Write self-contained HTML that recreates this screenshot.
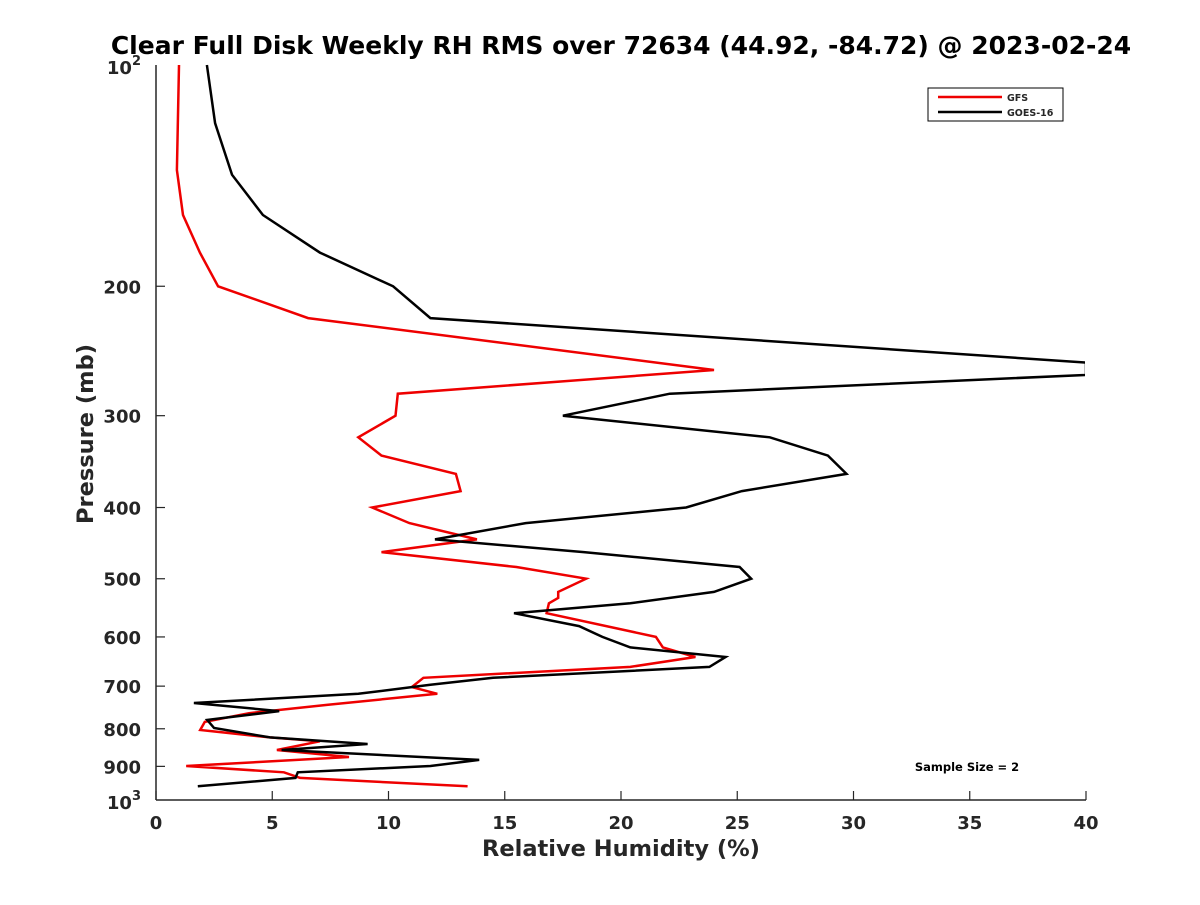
<!DOCTYPE html>
<html><head><meta charset="utf-8"><style>
body{margin:0;background:#fff;width:1200px;height:900px;overflow:hidden}
svg text{font-family:"DejaVu Sans","Liberation Sans",sans-serif;font-weight:bold;fill:#262626}
</style></head><body>
<svg id="chart" width="1200" height="900">
<defs><clipPath id="plotclip"><rect x="150" y="60" width="935" height="745"/></clipPath></defs>
<rect width="1200" height="900" fill="#fff"/>
<text x="621" y="54" text-anchor="middle" font-size="25" style="fill:#000">Clear Full Disk Weekly RH RMS over 72634 (44.92, -84.72) @ 2023-02-24</text>
<g id="axes"></g>
<g id="series" clip-path="url(#plotclip)"></g>
<g>
<rect x="928" y="88" width="135" height="33" fill="#fff" stroke="#000" stroke-width="1"/>
<line x1="938" y1="97" x2="1002" y2="97" stroke="#e00" stroke-width="2.5"/>
<text x="1007" y="101" font-size="9.5">GFS</text>
<line x1="938" y1="112" x2="1002" y2="112" stroke="#000" stroke-width="2.5"/>
<text x="1007" y="116" font-size="9.5">GOES-16</text>
</g>
<text x="967" y="771" text-anchor="middle" font-size="11.5" style="fill:#000">Sample Size = 2</text>
<text x="621" y="856" text-anchor="middle" font-size="22.5">Relative Humidity (%)</text>
<text transform="translate(93,434) rotate(-90)" text-anchor="middle" font-size="22.5">Pressure (mb)</text>
</svg>
<script>
const xTicks=[0,5,10,15,20,25,30,35,40];
const yTicks=[200,300,400,500,600,700,800,900];
const goesP=[100,120,141,160,180,200,221,254,264,280,300,321,340,360,380,400,420,442,460,482,500,521,540,557,580,600,620,639,659,682,697,717,738,757,778,798,822,839,855,882,899,917,933,958];
const goesRH=[2.19,2.54,3.27,4.6,7.05,10.2,11.8,40,40,22.1,17.5,26.4,28.9,29.7,25.2,22.8,15.9,12.0,18.4,25.1,25.6,24.0,20.4,15.4,18.2,19.2,20.4,24.5,23.8,14.5,11.8,8.7,1.63,5.3,2.2,2.5,4.9,9.1,5.4,13.9,11.8,6.1,6.0,1.8];
const gfsP=[100,139,160,180,200,221,260,280,300,321,340,360,380,400,420,442,460,482,500,521,531,540,557,600,620,639,659,682,702,717,742,762,783,803,822,832,855,874,899,917,933,958];
const gfsRH=[0.99,0.9,1.16,1.89,2.67,6.54,24.0,10.4,10.3,8.7,9.7,12.9,13.1,9.3,10.9,13.8,9.7,15.5,18.5,17.3,17.3,16.9,16.8,21.5,21.8,23.2,20.4,11.5,11.0,12.1,7.4,4.0,2.1,1.9,4.9,7.05,5.2,8.3,1.3,5.5,6.2,13.4];
const X0=156,X1=1086,Y0=65,Y1=800;
const xs=v=>X0+(v/40)*(X1-X0);
const ys=p=>Y0+Math.log10(p/100)*(Y1-Y0);
const NS="http://www.w3.org/2000/svg";
const ax=document.getElementById('axes'),sr=document.getElementById('series');
function mk(tag,attrs,parent){const e=document.createElementNS(NS,tag);for(const k in attrs)e.setAttribute(k,attrs[k]);parent.appendChild(e);return e;}
let l=mk('line',{x1:X0,y1:Y0,x2:X0,y2:Y1,stroke:'#262626','stroke-width':1.5},ax);


l=mk('line',{x1:X0,y1:Y1,x2:X1,y2:Y1,stroke:'#262626','stroke-width':1.5},ax);


xTicks.forEach(v=>{
 const t=mk('line',{x1:xs(v),y1:Y1,x2:xs(v),y2:Y1-9,stroke:'#262626','stroke-width':1.2},ax);
 
 
 const tx=mk('text',{x:xs(v),y:Y1+29,'text-anchor':'middle','font-size':18},ax);tx.textContent=v;
 
 
});
yTicks.forEach(p=>{
 const t=mk('line',{x1:X0,y1:ys(p),x2:X0+9,y2:ys(p),stroke:'#262626','stroke-width':1.2},ax);
 
 
 const tx=mk('text',{x:X0-15,y:ys(p)+7,'text-anchor':'end','font-size':18},ax);tx.textContent=p;
 
 
});
[[100,'2'],[1000,'3']].forEach(([p,e])=>{
 const tx=mk('text',{x:X0-15,y:ys(p)+9,'text-anchor':'end','font-size':18},ax);
 tx.innerHTML='10<tspan dy="-9" font-size="13">'+e+'</tspan>';
 
 
});
function line(P,V,color,name){
 const pts=P.map((p,i)=>xs(V[i]).toFixed(1)+','+ys(p).toFixed(1)).join(' ');
 const e=mk('polyline',{points:pts,fill:'none',stroke:color,'stroke-width':2.5,'stroke-linejoin':'miter'},sr);
 
 
}
line(gfsP,gfsRH,'#e00','gfs-line');
line(goesP,goesRH,'#000','goes16-line');
</script>
</body></html>
